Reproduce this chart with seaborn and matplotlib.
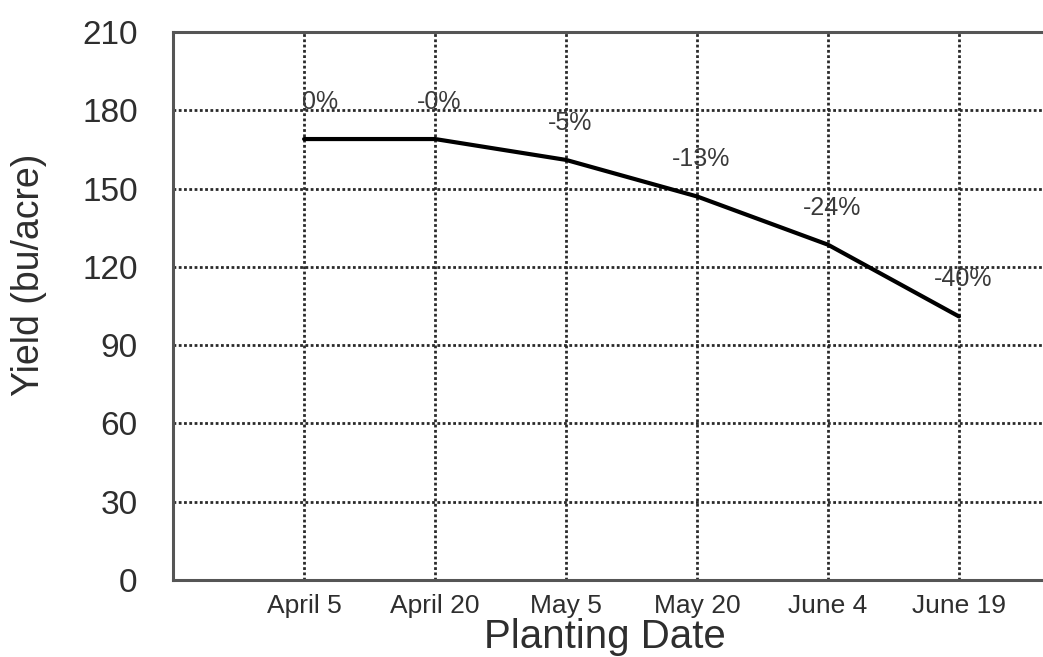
import pandas as pd
import matplotlib.pyplot as plt
import seaborn as sns

dates = ["April 5", "April 20", "May 5", "May 20", "June 4", "June 19"]
yields = [169, 169, 161, 147, 128.5, 101]
pct_labels = ["0%", "-0%", "-5%", "-13%", "-24%", "-40%"]
y_ticks = [0, 30, 60, 90, 120, 150, 180, 210]

sns.set_style("white")
plt.rcParams['font.family'] = ['Liberation Sans', 'DejaVu Sans']

df = pd.DataFrame({"date": dates, "yield": yields})

fig = plt.figure(figsize=(10.43, 6.57), dpi=100)
# right edge of the plot runs past the figure, as in the cropped original
ax = fig.add_axes([0.166, 0.1172, 0.879, 0.834])

sns.lineplot(data=df, x="date", y="yield", color="black", linewidth=3.0,
             sort=False, ax=ax)

ax.set_xlim(-1, 6)
ax.set_ylim(0, 210)
ax.set_yticks(y_ticks)

ax.grid(True, color="#2a2a2a", linestyle=(0, (1.0, 0.9)), linewidth=2.0)
ax.set_axisbelow(True)

for s in ["left", "top", "bottom", "right"]:
    ax.spines[s].set_color("#555555")
    ax.spines[s].set_linewidth(2.2)

ax.tick_params(axis="y", length=7.5, width=1.3, color="#555555",
               labelsize=24, labelcolor="#2e2e2e", pad=18)
ax.tick_params(axis="x", length=0, labelsize=19, labelcolor="#2e2e2e", pad=10)

ax.set_xlabel("Planting Date", fontsize=29, color="#2e2e2e")
ax.set_ylabel("Yield (bu/acre)", fontsize=27, color="#2e2e2e")
ax.xaxis.set_label_coords(0.471, -0.069)
ax.yaxis.set_label_coords(-0.157, 0.557)
ax.yaxis.label.set_verticalalignment("center")

for i, (d, v, t) in enumerate(zip(dates, yields, pct_labels)):
    ax.annotate(t, (d, v), xytext=(-2 if i == 0 else 4, 37),
                textcoords="offset pixels",
                ha="left" if i == 0 else "center", va="center",
                fontsize=18, color="#3a3a3a")

fig.savefig("out.png", dpi=100)
